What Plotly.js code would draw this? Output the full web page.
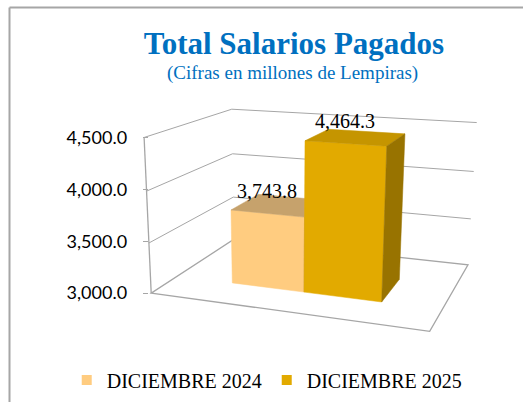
<!DOCTYPE html>
<html><head><meta charset="utf-8">
<script src="https://cdn.plot.ly/plotly-3.0.1.min.js"></script>
<style>html,body{margin:0;padding:0;background:#fff}</style>
</head><body><div id="chart" style="width:523px;height:402px"></div>
<script>
// ---- data ----
const seriesNames = ['DICIEMBRE 2024', 'DICIEMBRE 2025'];
const seriesValues = [3743.8, 4464.3];
const tickValues = [3000, 3500, 4000, 4500];
const axisMin = 3000, axisMax = 4500;

// ---- styles ----
const frontColors = ['#FFCC80', '#E2AA00'];
const topColors = ['#C6A26C', '#C59500'];
const sideColors = ['#B8955C', '#987300'];
const gridColor = '#A6A6A6';

// ---- 3D frame calibration (u across, v value fraction, w depth) -> pixel ----
const calib = [
  [0,0,0,151,293],[0,1,0,144,138],[0,1/3,0,149,243],[0,2/3,0,146.5,191],
  [0,1,1,232,109],[1,1,1,477,122],[1,2/3,1,473,172],[1,1/3,1,471,219],
  [1,0,1,468,265],[1,0,0,430,331]
];
function solveProjection() {
  const rows = [], rhs = [];
  calib.forEach(([u,v,w,X,Y]) => {
    rows.push([1,u,v,w,0,0,0,0,-X*u,-X*v,-X*w]); rhs.push(X);
    rows.push([0,0,0,0,1,u,v,w,-Y*u,-Y*v,-Y*w]); rhs.push(Y);
  });
  const n = 11, M = [];
  for (let i = 0; i < n; i++) {
    M.push(new Array(n + 1).fill(0));
    for (let j = 0; j < n; j++) rows.forEach(r => M[i][j] += r[i] * r[j]);
    rows.forEach((r, k) => M[i][n] += r[i] * rhs[k]);
  }
  for (let c = 0; c < n; c++) {
    let p = c;
    for (let r = c + 1; r < n; r++) if (Math.abs(M[r][c]) > Math.abs(M[p][c])) p = r;
    [M[c], M[p]] = [M[p], M[c]];
    for (let r = 0; r < n; r++) if (r !== c) {
      const f = M[r][c] / M[c][c];
      for (let j = c; j <= n; j++) M[r][j] -= f * M[c][j];
    }
  }
  return M.map((r, i) => r[n] / r[i]);
}
const P = solveProjection();
function proj(u, v, w) {
  const d = 1 + P[8]*u + P[9]*v + P[10]*w;
  return [(P[0] + P[1]*u + P[2]*v + P[3]*w) / d, (P[4] + P[5]*u + P[6]*v + P[7]*w) / d];
}
const frac = val => (val - axisMin) / (axisMax - axisMin);

// bar footprint (layout)
const uLeft = [0.225, 0.505], uRight = [0.505, 0.79];
const wFront = 0.28, wBack = 0.635;

function face(pts) {
  const p = pts.map(q => proj(q[0], q[1], q[2]));
  return { x: p.map(q => q[0]).concat([p[0][0]]), y: p.map(q => q[1]).concat([p[0][1]]) };
}
const traces = [];
seriesValues.forEach((val, i) => {
  const v = frac(val), a = uLeft[i], b = uRight[i];
  const faces = [
    [[[a,0,wFront],[b,0,wFront],[b,v,wFront],[a,v,wFront]], frontColors[i]],
    [[[a,v,wFront],[b,v,wFront],[b,v,wBack],[a,v,wBack]], topColors[i]],
    [[[b,0,wFront],[b,0,wBack],[b,v,wBack],[b,v,wFront]], sideColors[i]]
  ];
  faces.forEach(([pts, col]) => {
    const f = face(pts);
    traces.push({ type: 'scatter', mode: 'lines', x: f.x, y: f.y, fill: 'toself', fillcolor: col,
      line: { width: 0.5, color: col }, hoverinfo: 'skip', showlegend: false, name: seriesNames[i] });
  });
});
seriesNames.forEach((nm, i) => traces.push({
  type: 'scatter', mode: 'markers', x: [null], y: [null], yaxis: 'y2', name: nm,
  marker: { symbol: 'square', size: 10, color: frontColors[i] }, hoverinfo: 'skip'
}));

// frame shapes
const shapes = [];
function pathOf(pts) { return pts.map((q, k) => { const p = proj(q[0], q[1], q[2]); return (k ? 'L' : 'M') + p[0].toFixed(2) + ',' + p[1].toFixed(2); }).join(' '); }
tickValues.forEach(t => {
  const v = frac(t);
  if (t === axisMin) return;
  shapes.push({ type: 'path', xref: 'x', yref: 'y', layer: 'below', path: pathOf([[0,v,0],[0,v,1],[1,v,1]]), line: { color: gridColor, width: 1 } });
});
shapes.push({ type: 'path', xref: 'x', yref: 'y', layer: 'below', path: pathOf([[0,0,0],[1,0,0],[1,0,1],[0,0,1]]) + ' Z', line: { color: gridColor, width: 1.3 } });
shapes.push({ type: 'path', xref: 'x', yref: 'y', layer: 'below', path: pathOf([[0,0,0],[0,1,0]]), line: { color: gridColor, width: 1.3 } });
// chart border
shapes.push({ type: 'line', xref: 'x', yref: 'y', x0: 9.5, y0: 7.5, x1: 523, y1: 7.5, line: { color: '#A6A6A6', width: 2 } });
shapes.push({ type: 'line', xref: 'x', yref: 'y', x0: 9.5, y0: 7.5, x1: 9.5, y1: 402, line: { color: '#A6A6A6', width: 2 } });

// value axis mapping
const py0 = proj(0,0,0)[1], py1 = proj(0,1,0)[1];
const k = (py0 - py1) / (axisMax - axisMin);
const rmax = axisMin + py0 / k, rmin = rmax - 402 / k;
const axX = proj(0, 0.5, 0)[0];

const annotations = seriesValues.map((val, i) => {
  const p = proj((uLeft[i] + uRight[i]) / 2, frac(val), wFront);
  return { x: p[0], y: p[1], xref: 'x', yref: 'y', showarrow: false, yshift: 22, xanchor: 'center', yanchor: 'middle',
    text: val.toLocaleString('en-US', { minimumFractionDigits: 1, maximumFractionDigits: 1 }),
    font: { family: 'Liberation Serif', size: 20, color: '#000' } };
});
annotations.push({ x: 292, y: 73, xref: 'x', yref: 'y', showarrow: false, xanchor: 'center', yanchor: 'middle',
  text: '(Cifras en millones de Lempiras)', font: { family: 'Liberation Serif', size: 19, color: '#0070C0' } });

const layout = {
  width: 523, height: 402, margin: { l: 0, r: 0, t: 0, b: 0 },
  paper_bgcolor: '#fff', plot_bgcolor: 'rgba(0,0,0,0)',
  title: { text: 'Total Salarios Pagados', x: 294 / 523, xanchor: 'center', y: 1 - 43 / 402, yanchor: 'middle',
    xref: 'container', yref: 'container',
    font: { family: 'Liberation Serif', size: 31, color: '#0070C0', weight: 'bold' } },
  xaxis: { range: [0, 523], visible: false, fixedrange: true },
  yaxis: { range: [402, 0], visible: false, fixedrange: true },
  yaxis2: { overlaying: 'y', anchor: 'free', position: axX / 523, side: 'left', range: [rmin, rmax],
    tickvals: tickValues, tickformat: ',.1f', ticks: 'outside', ticklen: 5, tickcolor: gridColor,
    showgrid: false, zeroline: false, showline: false, ticklabelstandoff: 12,
    tickfont: { family: 'Lato', size: 18, color: '#000' }, fixedrange: true },
  showlegend: true,
  legend: { orientation: 'h', x: 0.51, xanchor: 'center', y: 1 - 380 / 402, yanchor: 'middle',
    font: { family: 'Liberation Serif', size: 20, color: '#000' }, bgcolor: 'rgba(0,0,0,0)' },
  shapes: shapes, annotations: annotations
};
Plotly.newPlot('chart', traces, layout, { displayModeBar: false, staticPlot: true });
</script></body></html>
